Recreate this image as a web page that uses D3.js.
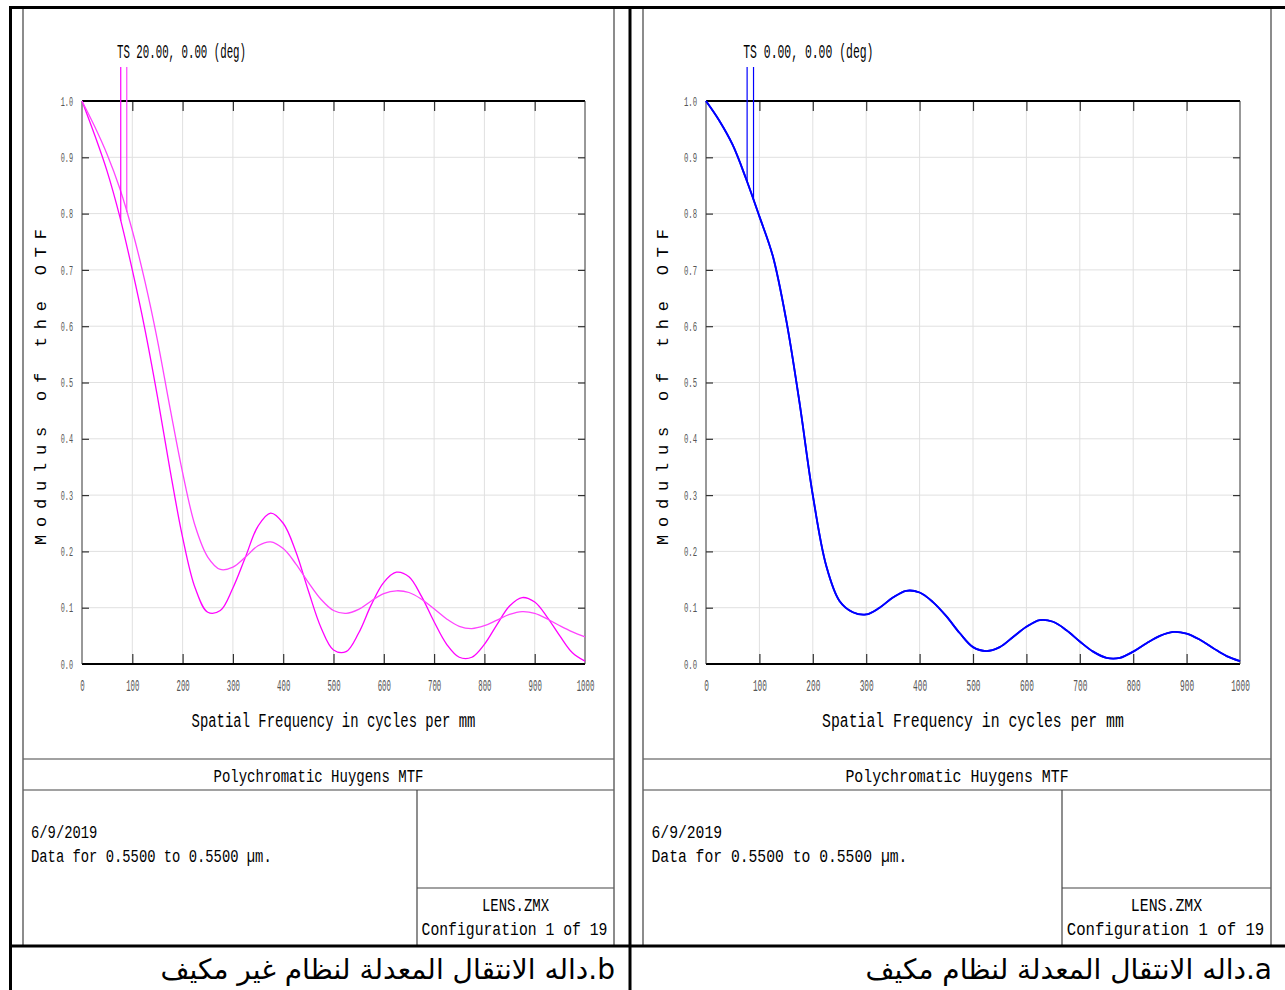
<!DOCTYPE html>
<html>
<head>
<meta charset="utf-8">
<script src="https://cdn.jsdelivr.net/npm/d3@7"></script>
<style>
  body { margin: 0; background: #fff; }
  svg { display: block; }
  .mono { font-family: "Liberation Mono", "DejaVu Sans Mono", monospace; }
</style>
</head>
<body>
<svg id="chart"></svg>
<script>
const width = 1285;
const height = 990;

// spatial frequency samples (cycles per mm)
const freqs = [0, 25, 50, 75, 100, 125, 150, 175, 200, 225, 250, 275, 300, 325, 350, 375, 400,
  425, 450, 475, 500, 525, 550, 575, 600, 625, 650, 675, 700, 725, 750, 775, 800, 825, 850,
  875, 900, 925, 950, 975, 1000];

// panel b: 20 deg field, two curves (T and S)
const fieldT20 = [1.0, 0.94, 0.875, 0.795, 0.70, 0.595, 0.475, 0.345, 0.225, 0.135, 0.092,
  0.095, 0.135, 0.19, 0.245, 0.268, 0.25, 0.20, 0.13, 0.065, 0.025, 0.022, 0.055, 0.105,
  0.145, 0.163, 0.155, 0.12, 0.075, 0.035, 0.012, 0.012, 0.035, 0.07, 0.103, 0.118, 0.11,
  0.083, 0.05, 0.02, 0.005];
const fieldS20 = [1.0, 0.955, 0.905, 0.845, 0.77, 0.68, 0.575, 0.455, 0.34, 0.245, 0.19,
  0.168, 0.172, 0.19, 0.21, 0.217, 0.205, 0.178, 0.145, 0.115, 0.095, 0.09, 0.097, 0.112,
  0.125, 0.13, 0.127, 0.115, 0.098, 0.08, 0.067, 0.063, 0.068, 0.078, 0.088, 0.093, 0.09,
  0.08, 0.068, 0.057, 0.048];

// panel a: on-axis, T and S coincide
const fieldTS0 = [1.0, 0.965, 0.922, 0.862, 0.795, 0.725, 0.612, 0.465, 0.30, 0.175, 0.112,
  0.092, 0.088, 0.10, 0.118, 0.13, 0.127, 0.11, 0.085, 0.055, 0.030, 0.023, 0.030, 0.048,
  0.066, 0.078, 0.075, 0.060, 0.040, 0.022, 0.011, 0.011, 0.022, 0.037, 0.050, 0.057, 0.054,
  0.043, 0.028, 0.014, 0.005];

const xTicks = [0, 100, 200, 300, 400, 500, 600, 700, 800, 900, 1000];
const yTicks = [0.0, 0.1, 0.2, 0.3, 0.4, 0.5, 0.6, 0.7, 0.8, 0.9, 1.0];
const legendFreqs = [77, 89];

const panels = [
  {
    left: 23, right: 614, x0: 82, x1: 585, split: 417, sx: 1,
    title: "TS 20.00, 0.00 (deg)",
    series: [fieldT20, fieldS20],
    colors: ["#ff00ff", "#ff44ff"],
    lineWidth: 1.3,
    caption: "b.داله الانتقال المعدلة لنظام غير مكيف",
  },
  {
    left: 643, right: 1271, x0: 706, x1: 1240, split: 1062, sx: 1.063,
    title: "TS 0.00, 0.00 (deg)",
    series: [fieldTS0, fieldTS0],
    colors: ["#0000ff", "#0000ff"],
    lineWidth: 1.8,
    caption: "a.داله الانتقال المعدلة لنظام مكيف",
  },
];

const svg = d3.select("#chart").attr("width", width).attr("height", height);

function valueAt(series, f) {
  const i = d3.bisectRight(freqs, f) - 1;
  const t = (f - freqs[i]) / (freqs[i + 1] - freqs[i]);
  return series[i] + t * (series[i + 1] - series[i]);
}

// squeeze mono text into the narrow zemax look
function squeeze(sel, perChar) {
  sel.each(function () {
    const n = this.textContent.length;
    d3.select(this).attr("textLength", n * perChar).attr("lengthAdjust", "spacingAndGlyphs");
  });
}

function drawPanel(p) {
  const g = svg.append("g");
  const x = d3.scaleLinear().domain([0, 1000]).range([p.x0, p.x1]);
  const y = d3.scaleLinear().domain([0, 1]).range([664, 101]);
  const k = p.sx;

  // grid
  g.append("g")
    .selectAll("line")
    .data(xTicks.slice(1, -1))
    .join("line")
    .attr("x1", (d) => x(d)).attr("x2", (d) => x(d))
    .attr("y1", y(0)).attr("y2", y(1))
    .attr("stroke", "#e0e0e0");
  g.append("g")
    .selectAll("line")
    .data(yTicks.slice(1, -1))
    .join("line")
    .attr("x1", x(0)).attr("x2", x(1000))
    .attr("y1", (d) => y(d)).attr("y2", (d) => y(d))
    .attr("stroke", "#e0e0e0");

  // inner tick marks on all four sides
  const inner = xTicks.slice(1, -1);
  const innerY = yTicks.slice(1, -1);
  g.append("g").attr("transform", `translate(0,${y(1)})`)
    .call(d3.axisBottom(x).tickValues(inner).tickSize(10).tickFormat(""));
  g.append("g").attr("transform", `translate(0,${y(0)})`)
    .call(d3.axisTop(x).tickValues(inner).tickSize(10).tickFormat(""));
  g.append("g").attr("transform", `translate(${x(0)},0)`)
    .call(d3.axisRight(y).tickValues(innerY).tickSize(7).tickFormat(""));
  g.append("g").attr("transform", `translate(${x(1000)},0)`)
    .call(d3.axisLeft(y).tickValues(innerY).tickSize(7).tickFormat(""));
  g.selectAll(".domain").remove();
  g.selectAll(".tick line").attr("stroke", "#333").attr("stroke-width", 1.2);

  // tick labels
  const xl = g.append("g").attr("transform", `translate(0,${y(0)})`)
    .call(d3.axisBottom(x).tickValues(xTicks).tickSize(0).tickPadding(15).tickFormat(d3.format("d")));
  xl.select(".domain").remove();
  xl.selectAll("text").attr("class", "mono").attr("font-size", 17).attr("fill", "#555")
    .attr("font-family", null).call(squeeze, 4.4 * k);

  const yl = g.append("g").attr("transform", `translate(${x(0)},0)`)
    .call(d3.axisLeft(y).tickValues(yTicks).tickSize(0).tickPadding(9).tickFormat(d3.format(".1f")));
  yl.select(".domain").remove();
  yl.selectAll("text").attr("class", "mono").attr("font-size", 13).attr("fill", "#555")
    .attr("font-family", null).call(squeeze, 4.1 * k);

  // plot frame
  g.append("line").attr("x1", x(0)).attr("x2", x(1000)).attr("y1", y(1)).attr("y2", y(1))
    .attr("stroke", "#000").attr("stroke-width", 2);
  g.append("line").attr("x1", x(0)).attr("x2", x(1000)).attr("y1", y(0)).attr("y2", y(0))
    .attr("stroke", "#000").attr("stroke-width", 2);
  g.append("line").attr("x1", x(0)).attr("x2", x(0)).attr("y1", y(1)).attr("y2", y(0))
    .attr("stroke", "#333").attr("stroke-width", 1);
  g.append("line").attr("x1", x(1000)).attr("x2", x(1000)).attr("y1", y(1)).attr("y2", y(0))
    .attr("stroke", "#333").attr("stroke-width", 1);

  // curves
  const line = d3.line()
    .x((d, i) => x(freqs[i]))
    .y((d) => y(d))
    .curve(d3.curveCatmullRom.alpha(0.5));
  p.series.forEach((s, i) => {
    g.append("path")
      .attr("d", line(s))
      .attr("fill", "none")
      .attr("stroke", p.colors[i])
      .attr("stroke-width", p.lineWidth);
  });

  // legend marker lines dropping to their curves
  legendFreqs.forEach((f, i) => {
    g.append("line")
      .attr("x1", x(f)).attr("x2", x(f))
      .attr("y1", 67).attr("y2", y(valueAt(p.series[i], f)))
      .attr("stroke", p.colors[i]).attr("stroke-width", 1.2);
  });

  // titles
  g.append("text").attr("class", "mono")
    .attr("x", x(0) + 35 * k).attr("y", 58)
    .attr("font-size", 20)
    .text(p.title)
    .call(squeeze, 6.45 * k);

  g.append("text").attr("class", "mono")
    .attr("x", (x(0) + x(1000)) / 2).attr("y", 727)
    .attr("text-anchor", "middle")
    .attr("font-size", 20)
    .text("Spatial Frequency in cycles per mm")
    .call(squeeze, 8.35 * k);

  g.append("text").attr("class", "mono")
    .attr("transform", `translate(${x(0) - 36 * k},387) rotate(-90)`)
    .attr("text-anchor", "middle")
    .attr("font-size", 17)
    .attr("textLength", 316)
    .attr("lengthAdjust", "spacing")
    .text("Modulus of the OTF");

  // footer boxes
  const frame = g.append("g").attr("stroke", "#444").attr("stroke-width", 1.2);
  frame.append("line").attr("x1", p.left).attr("x2", p.right).attr("y1", 759).attr("y2", 759);
  frame.append("line").attr("x1", p.left).attr("x2", p.right).attr("y1", 790).attr("y2", 790);
  frame.append("line").attr("x1", p.split).attr("x2", p.split).attr("y1", 790).attr("y2", 946);
  frame.append("line").attr("x1", p.split).attr("x2", p.right).attr("y1", 888).attr("y2", 888);

  g.append("text").attr("class", "mono")
    .attr("x", (p.left + p.right) / 2).attr("y", 782)
    .attr("text-anchor", "middle").attr("font-size", 18)
    .text("Polychromatic Huygens MTF").call(squeeze, 8.4 * k);

  g.append("text").attr("class", "mono")
    .attr("x", p.left + 8 * k).attr("y", 838).attr("font-size", 19)
    .text("6/9/2019").call(squeeze, 8.3 * k);
  g.append("text").attr("class", "mono")
    .attr("x", p.left + 8 * k).attr("y", 862).attr("font-size", 19)
    .text("Data for 0.5500 to 0.5500 µm.").call(squeeze, 8.3 * k);

  g.append("text").attr("class", "mono")
    .attr("x", (p.split + p.right) / 2).attr("y", 911)
    .attr("text-anchor", "middle").attr("font-size", 18)
    .text("LENS.ZMX").call(squeeze, 8.4 * k);
  g.append("text").attr("class", "mono")
    .attr("x", (p.split + p.right) / 2 - 1).attr("y", 935)
    .attr("text-anchor", "middle").attr("font-size", 18)
    .text("Configuration 1 of 19").call(squeeze, 8.85 * k);

  // panel side borders
  g.append("line").attr("x1", p.left).attr("x2", p.left).attr("y1", 7).attr("y2", 946)
    .attr("stroke", "#666").attr("stroke-width", 1.5);
  g.append("line").attr("x1", p.right).attr("x2", p.right).attr("y1", 7).attr("y2", 946)
    .attr("stroke", "#666").attr("stroke-width", 1.5);

  // arabic caption
  g.append("text")
    .attr("x", p.right + 1).attr("y", 979)
    .attr("direction", "rtl")
    .attr("text-anchor", "start")
    .attr("font-family", "'DejaVu Sans', 'Noto Sans', sans-serif")
    .attr("font-size", 28)
    .text(p.caption);
}

panels.forEach(drawPanel);

// heavy outer frame
const outer = svg.append("g").attr("stroke", "#000").attr("stroke-width", 3);
outer.append("line").attr("x1", 9).attr("x2", width).attr("y1", 7.5).attr("y2", 7.5);
outer.append("line").attr("x1", 9).attr("x2", width).attr("y1", 946).attr("y2", 946);
outer.append("line").attr("x1", 10.5).attr("x2", 10.5).attr("y1", 6).attr("y2", height);
outer.append("line").attr("x1", 630).attr("x2", 630).attr("y1", 6).attr("y2", height);
</script>
</body>
</html>
